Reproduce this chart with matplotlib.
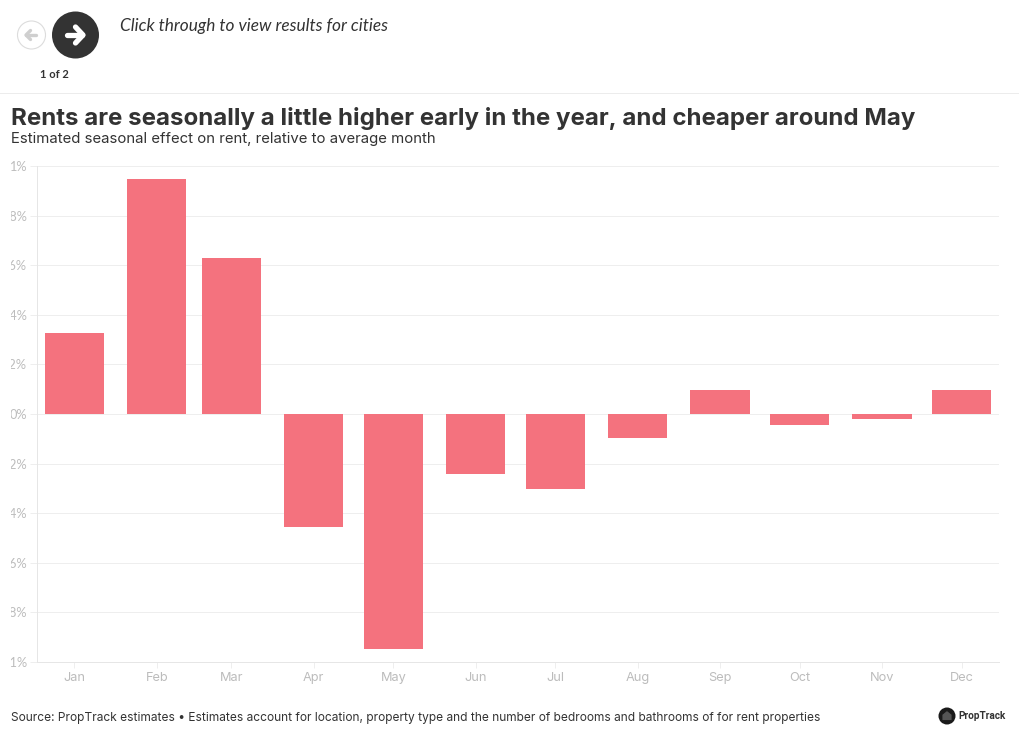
import pandas as pd
import matplotlib
matplotlib.use("Agg")
import matplotlib.pyplot as plt
import matplotlib.dates as mdates
from matplotlib.patches import Circle, Polygon
from matplotlib.transforms import Bbox

months = ["Jan", "Feb", "Mar", "Apr", "May", "Jun", "Jul", "Aug", "Sep", "Oct", "Nov", "Dec"]
month_starts = pd.date_range("2023-01-01", periods=12, freq="MS")
effect = [0.326, 0.947, 0.63, -0.454, -0.946, -0.24, -0.302, -0.095, 0.095, -0.046, -0.02, 0.095]
ytick_vals = [1, 0.8, 0.6, 0.4, 0.2, 0, -0.2, -0.4, -0.6, -0.8, -1]
ytick_labels = ["1%", "0.8%", "0.6%", "0.4%", "0.2%", "0%", "-0.2%", "-0.4%", "-0.6%", "-0.8%", "-1%"]

W, H = 1020, 743
fig = plt.figure(figsize=(W / 100, H / 100), dpi=100, facecolor="white")
plt.rcParams["font.family"] = ["Inter", "DejaVu Sans"]

# main chart, placed in pixels
ax = fig.add_axes([37 / W, 1 - 662 / H, (999 - 37) / W, (662 - 166) / H])
ax.bar(month_starts, effect, width=22.3, color="#f4727e", zorder=3)
ax.set_ylim(-1, 1)
ax.set_xlim(pd.Timestamp("2023-01-01") - pd.Timedelta(days=14.1),
            pd.Timestamp("2023-01-01") + pd.Timedelta(days=348))
ax.set_yticks(ytick_vals)
ax.set_yticklabels(ytick_labels, fontsize=9.2, color="#bdbdbd", fontfamily="Lato")
ax.set_xticks(mdates.date2num(month_starts))
ax.set_xticklabels(months, fontsize=9.2, color="#bcbcbc", fontfamily="Inter")
ax.grid(axis="y", color="#eeeeee", lw=0.72, zorder=0)
ax.tick_params(axis="y", length=5, width=0.72, color="#eeeeee", pad=2.2)
ax.tick_params(axis="x", length=4.3, width=0.72, color="#eeeeee", pad=2.6)
for s in ["top", "right"]:
    ax.spines[s].set_visible(False)
ax.spines["left"].set_color("#e6e6e6")
ax.spines["bottom"].set_color("#e6e6e6")
ax.spines["left"].set_linewidth(0.72)
ax.spines["bottom"].set_linewidth(0.72)

# the y labels are cut off at the left in the original
for lab in ax.get_yticklabels():
    lab.set_clip_box(Bbox([[11, 0], [W, H]]))
    lab.set_clip_on(True)

# overlay in pixel coordinates for header and logo
ov = fig.add_axes([0, 0, 1, 1], zorder=5)
ov.set_xlim(0, W)
ov.set_ylim(H, 0)
ov.axis("off")
ov.patch.set_alpha(0)

ov.plot([0, W], [92.5, 92.5], color="#ececec", lw=0.72)
ov.add_patch(Circle((31.5, 35), 14, fc="white", ec="#dcdcdc", lw=0.8))
ov.add_patch(Circle((75.5, 35), 23.5, fc="#333333", ec="none"))
ov.plot([26, 36], [35, 35], color="#cfcfcf", lw=2.4, solid_capstyle="round")
ov.plot([30.5, 26, 30.5], [30.5, 35, 39.5], color="#cfcfcf", lw=2.4, solid_capstyle="round")
ov.plot([67, 82], [35, 35], color="white", lw=3.8, solid_capstyle="round")
ov.plot([75.5, 83, 75.5], [27, 35, 43], color="white", lw=3.8, solid_capstyle="round", solid_joinstyle="round")

ov.text(120, 26, "Click through to view results for cities", fontsize=12.4, style="italic",
        color="#333333", va="center", family="Lato")
ov.text(54, 74, "1 of 2", fontsize=8, fontweight="bold", color="#333333", ha="center", va="center", family="Lato")

ov.text(11, 118, "Rents are seasonally a little higher early in the year, and cheaper around May",
        fontsize=17.3, fontweight="bold", color="#333333", va="center", family="Inter")
ov.text(11, 138.5, "Estimated seasonal effect on rent, relative to average month",
        fontsize=10.75, color="#333333", va="center", family="Inter")
ov.text(11, 718, "Source: PropTrack estimates \u2022 Estimates account for location, property type and the number of bedrooms and bathrooms of for rent properties",
        fontsize=8.6, color="#333333", va="center", family="Inter")

ov.add_patch(Circle((947, 716), 8.5, fc="#1a1a1a", ec="none"))
ov.add_patch(Polygon([(947, 710.5), (952, 714.5), (952, 720.5), (942, 720.5), (942, 714.5)],
                     fc="#555555", ec="#1a1a1a", lw=0.6))
ov.text(958, 716, "PropTrack", fontsize=7.2, fontweight="bold", color="#333333", va="center", family="Roboto")

fig.savefig("out.png", dpi=100)
